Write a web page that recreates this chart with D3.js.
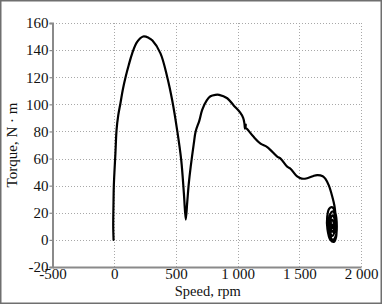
<!DOCTYPE html>
<html><head><meta charset="utf-8">
<script src="https://cdn.jsdelivr.net/npm/d3@7"></script>
<style>
html,body{margin:0;padding:0;background:#fff;}
svg{display:block;}
text{font-family:"Liberation Serif","Times New Roman",serif;fill:#111;}
</style></head>
<body>
<script>
const xTicks = [-500, 0, 500, 1000, 1500, 2000];
const xTickLabels = ["-500", "0", "500", "1 000", "1 500", "2 000"];
const yTicks = [-20, 0, 20, 40, 60, 80, 100, 120, 140, 160];
const yTickLabels = ["-20", "0", "20", "40", "60", "80", "100", "120", "140", "160"];
const xTitle = "Speed, rpm";
const yTitle = "Torque, N · m";

// speed (rpm)
const speed = [-5, -8, -6, -3, 3, 10, 19, 33, 51, 70, 92, 118, 146, 186, 235, 280, 310, 375, 430, 470, 510, 543, 565, 580,
  592, 605, 620, 645, 660, 690, 713, 750, 780, 820, 850, 916, 970, 1020, 1045, 1055, 1060, 1068, 1062, 1075,
  1130, 1186, 1240, 1321, 1348, 1402, 1429, 1480, 1520, 1564, 1610, 1645, 1690, 1712, 1740, 1767, 1785, 1794,
  1802, 1798, 1780, 1752, 1728, 1726, 1742, 1768, 1792, 1804, 1796, 1772, 1750, 1740, 1750, 1774, 1792, 1788,
  1768, 1752, 1750, 1766, 1784, 1782, 1766, 1756, 1762, 1778, 1776, 1764, 1770];
// torque (N·m)
const torque = [0, 10, 25, 40, 52, 64, 81, 92, 101, 111, 120, 129, 137.6, 146, 150, 149, 147, 137.6, 120, 103, 81, 59, 34, 15,
  28, 42, 54, 71, 80, 88, 96, 103, 106, 107, 107, 104.5, 99, 94, 90, 86, 82, 85, 83, 82,
  76, 71, 68.5, 61.5, 60, 54, 52.5, 47, 45.2, 45.5, 47, 47.8, 47, 45, 40, 32, 25, 18,
  10, 2, -1.5, 0, 8, 17, 23, 24, 20, 10, 3, 0, 3, 11, 19, 21, 15, 7,
  3, 5, 13, 18, 16, 8, 6, 11, 15, 13, 9, 9, 11];

const W = 382, H = 304;
const m = {left: 52.5, right: 21, top: 23, bottom: 37};

const svg = d3.select("body").append("svg").attr("width", W).attr("height", H);

// outer frame
svg.append("rect").attr("x", 0.75).attr("y", 0.75).attr("width", W - 1.5).attr("height", H - 1.5)
  .attr("fill", "none").attr("stroke", "#6f6f6f").attr("stroke-width", 1.5);

const x = d3.scaleLinear().domain([-500, 2000]).range([m.left, W - m.right]);
const y = d3.scaleLinear().domain([-20, 160]).range([H - m.bottom, m.top]);

const g = svg.append("g").attr("shape-rendering", "crispEdges");

// grid
g.selectAll(".gx").data(xTicks.slice(1)).join("line")
  .attr("x1", d => Math.round(x(d)) + 0.5).attr("x2", d => Math.round(x(d)) + 0.5)
  .attr("y1", y(-20)).attr("y2", y(160))
  .attr("stroke", "#a8a8a8").attr("stroke-width", 1).attr("stroke-dasharray", "1.5,1.5");
g.selectAll(".gy").data(yTicks.slice(1)).join("line")
  .attr("y1", d => Math.round(y(d)) + 0.5).attr("y2", d => Math.round(y(d)) + 0.5)
  .attr("x1", x(-500)).attr("x2", x(2000))
  .attr("stroke", "#a8a8a8").attr("stroke-width", 1).attr("stroke-dasharray", "1.5,1.5");

// axes
const xAxis = d3.axisBottom(x).tickValues(xTicks).tickSize(0).tickPadding(3)
  .tickFormat((d, i) => xTickLabels[i]);
const yAxis = d3.axisLeft(y).tickValues(yTicks).tickSize(3).tickPadding(1)
  .tickFormat((d, i) => yTickLabels[i]);

const gx = svg.append("g").attr("transform", `translate(0,${y(-20)})`).call(xAxis);
const gy = svg.append("g").attr("transform", `translate(${x(-500)},0)`).call(yAxis);
[gx, gy].forEach(a => {
  a.select(".domain").attr("stroke", "#8a8a8a").attr("stroke-width", 2);
  a.selectAll(".tick line").attr("stroke", "#8a8a8a").attr("stroke-width", 1.2);
  a.selectAll("text").attr("font-family", "Liberation Serif, serif").attr("font-size", 15).attr("fill", "#111");
});
gx.selectAll("text").attr("dy", "0.62em");

// titles
svg.append("text").attr("x", (x(-500) + x(2000)) / 2 + 1).attr("y", 296)
  .attr("text-anchor", "middle").attr("font-size", 14.5).text(xTitle);
svg.append("text").attr("transform", `translate(17,${(y(-20) + y(160)) / 2}) rotate(-90)`)
  .attr("text-anchor", "middle").attr("font-size", 15).text(yTitle);

// curve
const pts = speed.map((s, i) => [s, torque[i]]);
const line = d3.line().x(d => x(d[0])).y(d => y(d[1])).curve(d3.curveCatmullRom.alpha(0.5));
svg.append("path").datum(pts).attr("d", line)
  .attr("fill", "none").attr("stroke", "#000").attr("stroke-width", 2.2)
  .attr("stroke-linejoin", "round").attr("stroke-linecap", "round");
</script>
</body></html>
